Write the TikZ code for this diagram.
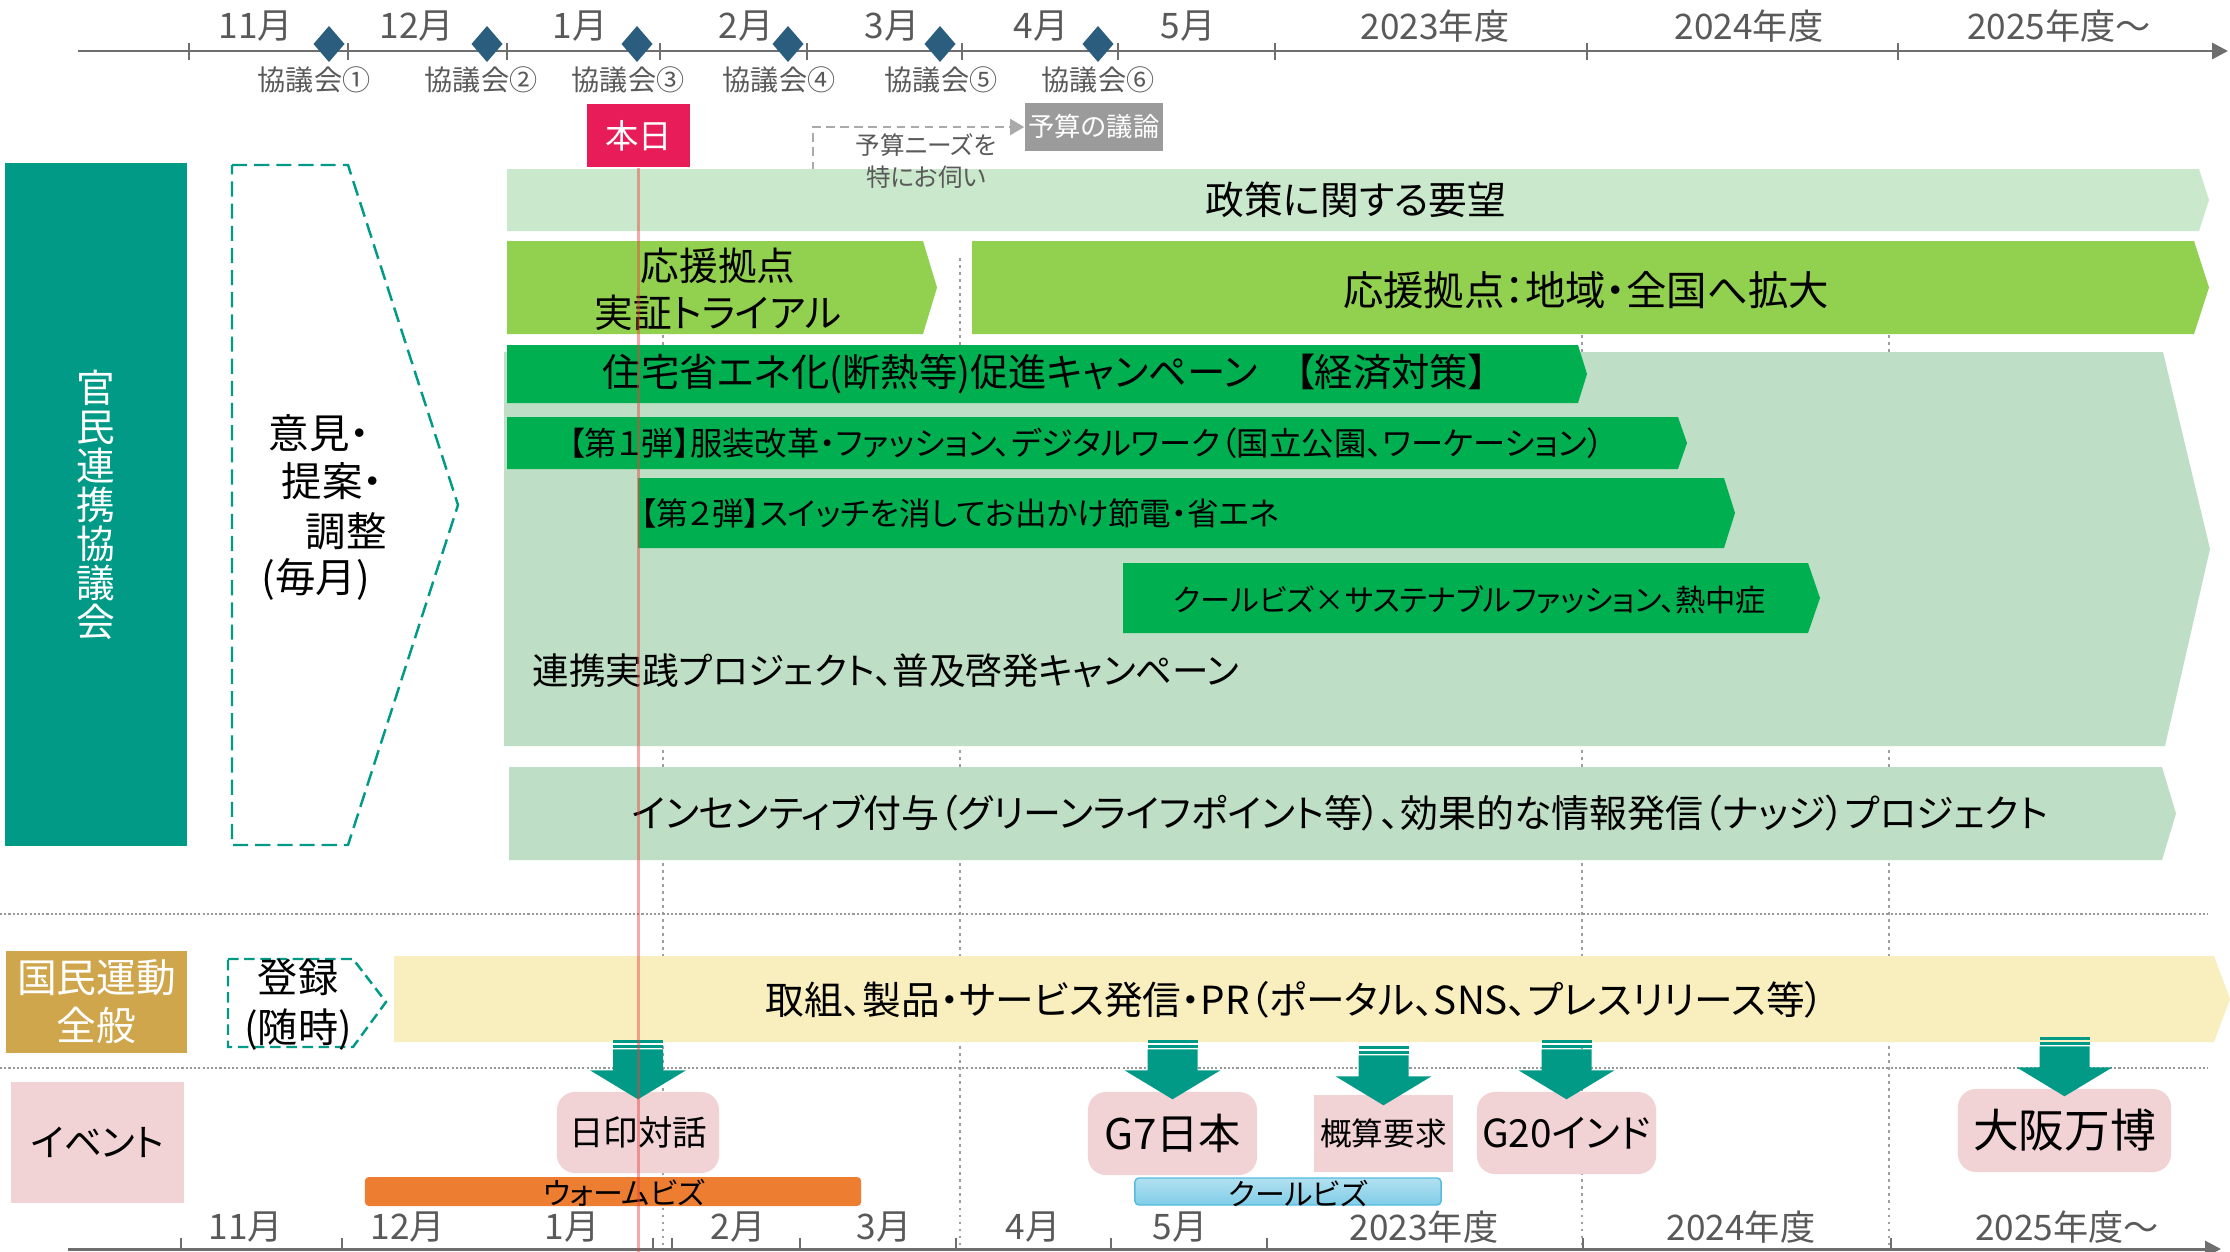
\documentclass[tikz,border=0pt]{standalone}
\usepackage{fontspec}
\setmainfont{Noto Sans CJK JP}[RawFeature=+palt]
\usetikzlibrary{arrows.meta}
\newcommand\fsz[2]{\fontsize{#1}{#2}\selectfont}
\definecolor{teal1}{HTML}{009A87}
\definecolor{dgreen}{HTML}{00B050}
\definecolor{lgreen}{HTML}{92D050}
\definecolor{pale}{HTML}{CAE8CC}
\definecolor{pale2}{HTML}{BEDFC5}
\definecolor{yel}{HTML}{F8EEBE}
\definecolor{gold}{HTML}{CFA64B}
\definecolor{pinkbox}{HTML}{F1D3D6}
\definecolor{orng}{HTML}{ED7D31}
\definecolor{coolb}{HTML}{55BCE0}
\definecolor{today}{HTML}{E81C58}
\definecolor{gbox}{HTML}{9B9B9B}
\definecolor{dia}{HTML}{2B5E7E}
\definecolor{axis}{HTML}{6E6E6E}
\definecolor{axtxt}{HTML}{595959}
\definecolor{redline}{HTML}{E84040}
\tikzset{
  blockarrow/.pic={
    \fill[teal1] (-25,-51) rectangle (25,-48);
    \fill[teal1] (-25,-46.5) rectangle (25,-43.5);
    \fill[teal1] (-25,-42) -- (25,-42) -- (25,-21) -- (48,-21) -- (0,8) -- (-48,-21) -- (-25,-21) -- cycle;
  }
}
\begin{document}
\begin{tikzpicture}[x=0.01cm,y=-0.01cm,
  axlbl/.style={text=axtxt, font=\fsz{10}{12}, inner sep=0},
  kyo/.style={text=axtxt, font=\fsz{8}{10}, inner sep=0},
  bandtxt/.style={text=black, inner sep=0},
  gridln/.style={draw=gray!75, line width=0.4pt, dash pattern=on 0.8pt off 1.2pt},
  sepln/.style={draw=gray!80, line width=0.5pt, dash pattern=on 0.6pt off 0.6pt},
  tealdash/.style={draw=teal1, line width=0.7pt, dash pattern=on 4.3pt off 2pt},
  tealdashs/.style={draw=teal1, line width=0.7pt, dash pattern=on 3pt off 1.6pt},
  evt/.style={fill=pinkbox, rounded corners=0.18cm, inner sep=0, text=black},
  axisline/.style={draw=axis, line width=0.85pt, -{Triangle[length=4.5pt,width=4.5pt]}},
  tickln/.style={draw=axis, line width=0.4pt},
  todayline/.style={draw=redline, line width=0.8pt, opacity=0.45},
  budget/.style={draw=gbox!85, line width=0.7pt, dash pattern=on 2.4pt off 1.6pt, -{Triangle[length=4pt,width=4.5pt]}}
]
\useasboundingbox (0,0) rectangle (2230,1251);
\fill[white] (0,0) rectangle (2230,1251);

% grid lines
\foreach \gx in {663,960,1582,1889} \draw[gridln] (\gx,258) -- (\gx,1249);
\draw[sepln] (0,914) -- (2208,914);
\draw[sepln] (0,1068) -- (2208,1068);

% top axis
\draw[axisline] (78,51) -- (2228,51);
\foreach \tx in {189,348,507,660,807,962,1118,1275,1587,1898} \draw[tickln] (\tx,43) -- (\tx,60);
\node[axlbl] (t11) at (256,26) {11月};
\node[axlbl] (t12) at (417,26) {12月};
\node[axlbl] (t1) at (580,26) {1月};
\node[axlbl] (t2) at (746,26) {2月};
\node[axlbl] (t3) at (892,26) {3月};
\node[axlbl] (t4) at (1041,26) {4月};
\node[axlbl] (t5) at (1188,26) {5月};
\node[axlbl] (t23) at (1435,26) {2023年度};
\node[axlbl] (t24) at (1749,26) {2024年度};
\node[axlbl] (t25) at (2059,26) {2025年度～};
\foreach \dx in {329,487,637,788,940,1098} \fill[dia] (\dx,26) -- (\dx+15.5,44) -- (\dx,62) -- (\dx-15.5,44) -- cycle;
\node[kyo] (k1) at (314,80) {協議会①};
\node[kyo] (k2) at (481,80) {協議会②};
\node[kyo] (k3) at (628,80) {協議会③};
\node[kyo] (k4) at (779,80) {協議会④};
\node[kyo] (k5) at (941,80) {協議会⑤};
\node[kyo] (k6) at (1098,80) {協議会⑥};

% today / budget
\node[fill=today, text=white, minimum width=1.03cm, minimum height=0.63cm, inner sep=0, font=\fsz{9.5}{11}] (today) at (638.5,135.5) {本日};
\node[fill=gbox, text=white, minimum width=1.38cm, minimum height=0.48cm, inner sep=0, font=\fsz{7.5}{9}] (yosan) at (1094,127) {予算の議論};
\coordinate (yq) at (813,170);
\draw[budget] (yq) |- (yosan.west);

% left column
\node[fill=teal1, minimum width=1.81cm, minimum height=6.83cm, inner sep=0, text=white, align=center, font=\fsz{11}{11.1}] (kanmin) at (96,504.5) {官\\民\\連\\携\\協\\議\\会};
\draw[tealdash] (232,165) -- (348,165) -- (458,505) -- (348,845) -- (232,845) -- cycle;
\node[anchor=west, font=\fsz{11.5}{13}, inner sep=0] (iken) at (268,433) {意見・};
\node[anchor=west, font=\fsz{11.5}{13}, inner sep=0] (teian) at (281,481) {提案・};
\node[anchor=west, font=\fsz{11.5}{13}, inner sep=0] (chosei) at (305,531) {調整};
\node[anchor=west, font=\fsz{11.5}{13}, inner sep=0] (maitsuki) at (261,579) {(毎月)};

% bands
\fill[pale] (507,169) -- (2199,169) -- (2209,200) -- (2199,231) -- (507,231) -- cycle;
\node[bandtxt, font=\fsz{11}{13}] (policy) at (1356,200) {政策に関する要望};
\node[text=axtxt, font=\fsz{7}{9}, align=center, inner sep=0] (needs) at (926,161) {予算ニーズを\\特にお伺い};
\fill[lgreen] (507,241) -- (923,241) -- (937,287.5) -- (923,334) -- (507,334) -- cycle;
\node[bandtxt, font=\fsz{11}{13.4}, align=center] (trial) at (718,289) {応援拠点\\実証トライアル};
\fill[lgreen] (972,241) -- (2194,241) -- (2209,287.5) -- (2194,334) -- (972,334) -- cycle;
\node[bandtxt, font=\fsz{11.5}{13}] (expand) at (1586,290) {応援拠点：地域・全国へ拡大};
\fill[pale2] (504,352) -- (2163,352) -- (2210,549) -- (2165,746) -- (504,746) -- cycle;
\node[bandtxt, font=\fsz{10.4}{13}, anchor=west] (renkei) at (532,671) {連携実践プロジェクト、普及啓発キャンペーン};
\fill[dgreen] (507,345) -- (1578,345) -- (1587,374) -- (1578,403) -- (507,403) -- cycle;
\node[bandtxt, font=\fsz{10.9}{13}] (jutaku) at (1045,374) {住宅省エネ化(断熱等)促進キャンペーン　【経済対策】};
\fill[dgreen] (507,417) -- (1678,417) -- (1687,443) -- (1678,469) -- (507,469) -- cycle;
\node[bandtxt, font=\fsz{9.2}{12}] (dan1) at (1086,443) {【第１弾】服装改革・ファッション、デジタルワーク（国立公園、ワーケーション）};
\fill[dgreen] (638,478) -- (1724,478) -- (1735,513) -- (1724,548) -- (638,548) -- cycle;
\node[bandtxt, font=\fsz{9}{12}, anchor=west] (dan2) at (640,513) {【第２弾】スイッチを消してお出かけ節電・省エネ};
\fill[dgreen] (1123,563) -- (1808,563) -- (1820,598) -- (1808,633) -- (1123,633) -- cycle;
\node[bandtxt, font=\fsz{8.6}{12}] (coolfash) at (1470,600) {クールビズ×サステナブルファッション、熱中症};
\fill[pale2] (509,767) -- (2162,767) -- (2176,813.5) -- (2162,860) -- (509,860) -- cycle;
\node[bandtxt, font=\fsz{10.8}{13}] (incent) at (1340,813) {インセンティブ付与（グリーンライフポイント等）、効果的な情報発信（ナッジ）プロジェクト};

% national movement
\node[fill=gold, minimum width=1.81cm, minimum height=1.02cm, inner sep=0, text=white, align=center, font=\fsz{11.3}{13.7}] (kokumin) at (96.5,1002) {国民運動\\全般};
\draw[tealdashs] (228,959) -- (353,959) -- (386,1002) -- (353,1047) -- (228,1047) -- cycle;
\node[font=\fsz{11.4}{14.2}, align=center, inner sep=0] (toroku) at (298,1005) {登録\\(随時)};
\fill[yel] (394,956) -- (2214,956) -- (2230,999) -- (2214,1042) -- (394,1042) -- cycle;
\node[bandtxt, font=\fsz{11}{13}] (pr) at (1295,1000) {取組、製品・サービス発信・PR（ポータル、SNS、プレスリリース等）};

% events
\node[fill=pinkbox, minimum width=1.73cm, minimum height=1.21cm, inner sep=0, font=\fsz{10.7}{13}] (event) at (97.5,1142.5) {イベント};
\node[evt, minimum width=1.62cm, minimum height=0.81cm, font=\fsz{9.8}{11}] (nikkan) at (638,1132.5) {日印対話};
\node[evt, minimum width=1.69cm, minimum height=0.83cm, font=\fsz{12}{14}] (g7) at (1172.5,1133.5) {G7日本};
\node[fill=pinkbox, minimum width=1.39cm, minimum height=0.77cm, inner sep=0, font=\fsz{9}{11}] (gaisan) at (1383.5,1133.5) {概算要求};
\node[evt, minimum width=1.79cm, minimum height=0.82cm, font=\fsz{11}{14}] (g20) at (1566.5,1133) {G20インド};
\node[evt, minimum width=2.13cm, minimum height=0.83cm, font=\fsz{13}{15}] (expo) at (2064.5,1130.5) {大阪万博};

\pic at (nikkan.north) {blockarrow};
\pic at (g7.north) {blockarrow};
\pic at ([yshift=-0.03cm]gaisan.north) {blockarrow};
\pic at (g20.north) {blockarrow};
\pic at (expo.north) {blockarrow};

\node[fill=orng, rounded corners=0.04cm, minimum width=4.96cm, minimum height=0.29cm, inner sep=0] (warmbar) at (613,1191.5) {};
\node[font=\fsz{8.5}{12}, inner sep=0] (warm) at (624,1193) {ウォームビズ};
\node[draw=coolb, top color=coolb!45, bottom color=coolb!75, rounded corners=0.04cm, line width=0.4pt, minimum width=3.06cm, minimum height=0.27cm, inner sep=0] (coolbar) at (1288,1191.5) {};
\node[font=\fsz{8.5}{12}, inner sep=0] (cool) at (1298,1193) {クールビズ};

% bottom axis
\draw[axisline] (68,1249) -- (2221,1249);
\foreach \tx in {181,342,653,672,800,956,1111,1267,1583,1891} \draw[tickln] (\tx,1238) -- (\tx,1249);
\node[axlbl] (b11) at (246,1227) {11月};
\node[axlbl] (b12) at (408,1227) {12月};
\node[axlbl] (b1) at (572,1227) {1月};
\node[axlbl] (b2) at (738,1227) {2月};
\node[axlbl] (b3) at (884,1227) {3月};
\node[axlbl] (b4) at (1033,1227) {4月};
\node[axlbl] (b5) at (1180,1227) {5月};
\node[axlbl] (b23) at (1424,1227) {2023年度};
\node[axlbl] (b24) at (1741,1227) {2024年度};
\node[axlbl] (b25) at (2067,1227) {2025年度～};

% today line on top
\draw[todayline] (today.south) -- ++(0,1085);
\end{tikzpicture}
\end{document}
